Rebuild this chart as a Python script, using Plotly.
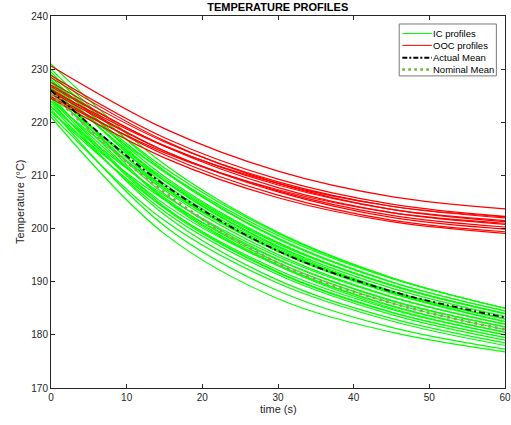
import plotly.graph_objects as go

# ---------------- data ----------------
time_s = [0, 15, 30, 45, 60]

ic_profiles = [
    [231.0, 212.1, 199.3, 190.8, 185.0],
    [230.0, 210.9, 198.2, 190.0, 184.5],
    [229.5, 209.0, 196.5, 188.3, 183.0],
    [229.0, 211.4, 199.1, 190.7, 185.0],
    [228.5, 209.8, 197.4, 189.3, 184.0],
    [228.0, 208.4, 196.2, 188.0, 182.5],
    [228.0, 210.6, 198.0, 189.9, 184.5],
    [227.5, 209.0, 196.7, 188.8, 183.5],
    [227.0, 206.5, 194.2, 186.5, 181.5],
    [227.0, 209.4, 197.3, 189.4, 184.0],
    [226.5, 207.6, 195.7, 187.8, 182.5],
    [226.0, 207.9, 195.9, 188.2, 183.0],
    [226.0, 205.5, 193.2, 185.5, 180.5],
    [225.5, 207.2, 195.1, 187.2, 182.0],
    [225.0, 209.0, 197.1, 189.3, 184.0],
    [225.0, 204.1, 191.8, 184.3, 179.5],
    [224.5, 205.8, 193.6, 186.0, 181.0],
    [224.0, 207.6, 195.7, 188.1, 183.0],
    [224.0, 202.6, 190.3, 183.1, 178.5],
    [223.5, 204.6, 193.0, 185.4, 180.5],
    [223.0, 206.2, 194.7, 187.1, 182.0],
    [223.0, 203.2, 191.3, 183.8, 179.0],
    [222.5, 200.5, 188.3, 181.4, 177.3],
    [222.0, 203.9, 192.2, 184.8, 180.0],
    [222.0, 205.4, 194.1, 186.4, 181.5],
    [221.5, 201.5, 189.7, 182.6, 178.0],
    [221.0, 199.0, 186.8, 180.5, 176.8],
    [226.5, 210.7, 198.7, 190.6, 185.0],
    [224.5, 203.8, 191.7, 184.2, 179.5],
    [228.0, 205.4, 193.0, 185.0, 180.0],
]

ooc_profiles = [
    [230.6, 218.8, 210.8, 206.0, 203.7],
    [228.8, 217.1, 209.3, 204.6, 202.3],
    [228.4, 216.5, 208.5, 203.6, 201.3],
    [227.5, 216.3, 208.8, 204.2, 202.0],
    [227.0, 215.5, 207.7, 203.0, 200.8],
    [226.7, 215.6, 208.2, 203.6, 201.5],
    [226.2, 214.6, 206.9, 202.1, 199.9],
    [225.8, 214.6, 207.1, 202.5, 200.3],
    [225.3, 213.9, 206.3, 201.6, 199.4],
    [224.8, 214.3, 207.3, 203.0, 201.0],
    [224.5, 213.3, 205.8, 201.3, 199.1],
    [226.0, 215.5, 208.5, 204.2, 202.2],
]

actual_mean = [226.0, 208.2, 195.8, 188.2, 183.3]
nominal_mean = [225.3, 206.8, 193.5, 186.0, 181.0]

x_ticks = [0, 10, 20, 30, 40, 50, 60]
y_ticks = [170, 180, 190, 200, 210, 220, 230, 240]

legend_labels = ["IC profiles", "OOC profiles", "Actual Mean", "Nominal Mean"]

# ---------------- styles ----------------
GREEN = "#00ff00"
RED = "#ff0000"
NOMINAL_PLOT = "#9c9a62"
NOMINAL_LEG = "#6cb52e"
AXIS = "#262626"
FONT = "Liberation Sans, Arial, sans-serif"

fig = go.Figure()

for prof in ic_profiles:
    fig.add_trace(go.Scatter(x=time_s, y=prof, mode="lines",
                             line=dict(color=GREEN, width=1.2, shape="spline"),
                             showlegend=False, hoverinfo="skip"))
for prof in ooc_profiles:
    fig.add_trace(go.Scatter(x=time_s, y=prof, mode="lines",
                             line=dict(color=RED, width=1.2, shape="spline"),
                             showlegend=False, hoverinfo="skip"))

fig.add_trace(go.Scatter(x=time_s, y=nominal_mean, mode="lines",
                         line=dict(color=NOMINAL_PLOT, width=2.8, dash="2.8px,4.2px",
                                   shape="spline"),
                         showlegend=False))
fig.add_trace(go.Scatter(x=time_s, y=actual_mean, mode="lines",
                         line=dict(color="#000000", width=1.8, dash="6px,3px,2px,3px",
                                   shape="spline"),
                         showlegend=False))

# ---------------- manual legend (paper coordinates) ----------------
shapes = [dict(type="rect", xref="paper", yref="paper",
               x0=0.767, x1=0.981, y0=0.839, y1=0.9785,
               line=dict(color="#7a7a7a", width=1), fillcolor="white", layer="above")]
row_y = [0.953, 0.921, 0.888, 0.856]
styles = [dict(color=GREEN, width=1),
          dict(color=RED, width=1),
          dict(color="#000000", width=2, dash="5px,2px,2px,2px"),
          dict(color=NOMINAL_LEG, width=2.6, dash="2.6px,3.4px")]
annotations = []
for lab, yy, st in zip(legend_labels, row_y, styles):
    shapes.append(dict(type="line", xref="paper", yref="paper",
                       x0=0.7738, x1=0.839, y0=yy, y1=yy, line=st, layer="above"))
    annotations.append(dict(xref="paper", yref="paper", x=0.841, y=yy,
                            text=lab, showarrow=False, xanchor="left", yanchor="middle",
                            xshift=-2,
                            font=dict(family=FONT, size=9.5, color="#000000")))

# axis titles as annotations for exact placement
annotations.append(dict(xref="paper", yref="paper", x=0.5, y=-0.0565,
                        text="time (s)", showarrow=False, xanchor="center",
                        yanchor="middle", font=dict(family=FONT, size=11, color=AXIS)))
annotations.append(dict(xref="paper", yref="paper", x=-0.0683, y=0.5,
                        text="Temperature (°C)", showarrow=False, textangle=-90,
                        xanchor="center", yanchor="middle",
                        font=dict(family=FONT, size=11, color=AXIS)))

fig.update_layout(
    width=511, height=425,
    margin=dict(l=51, r=6.4, t=16, b=37, autoexpand=False),
    paper_bgcolor="white", plot_bgcolor="white",
    title=dict(text="<b>TEMPERATURE PROFILES</b>", x=0.5436, xanchor="center",
               y=1 - 7.5 / 425, yanchor="middle",
               font=dict(family=FONT, size=11, color="#000000")),
    shapes=shapes, annotations=annotations,
    showlegend=False, hovermode=False,
    font=dict(family=FONT, size=10, color=AXIS),
)

fig.update_xaxes(range=[0, 60], tickvals=x_ticks, ticktext=[str(v) for v in x_ticks],
                 showgrid=False, zeroline=False, showline=True, linecolor=AXIS,
                 linewidth=1, mirror="ticks", ticks="inside", ticklen=4, tickcolor=AXIS,
                 tickfont=dict(family=FONT, size=10, color=AXIS), automargin=False)
fig.update_yaxes(range=[170, 240], tickvals=y_ticks, ticktext=[str(v) for v in y_ticks],
                 showgrid=False, zeroline=False, showline=True, linecolor=AXIS,
                 linewidth=1, mirror="ticks", ticks="inside", ticklen=4, tickcolor=AXIS,
                 tickfont=dict(family=FONT, size=10, color=AXIS), automargin=False)

fig.write_html("out.html", config={"displayModeBar": False},
               post_script="document.body.style.margin='0';document.body.style.overflow='hidden';")
